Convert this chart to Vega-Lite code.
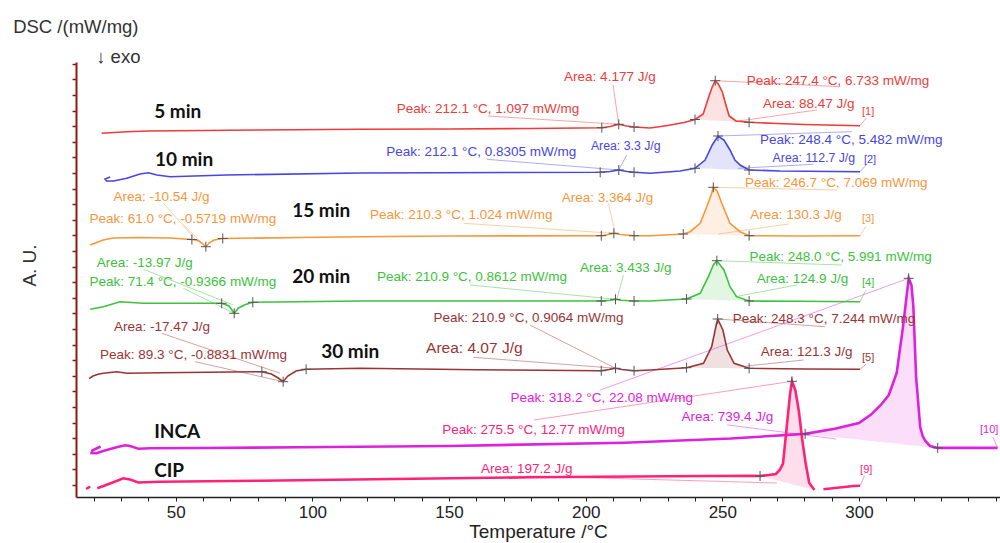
{
"$schema": "https://vega.github.io/schema/vega-lite/v6.json",
"width": 924, "height": 435,
"autosize": "none",
"padding": {"left": 76, "top": 62, "right": 0, "bottom": 46},
"config": {"view": {"stroke": null}, "font": "Liberation Sans"},
"datasets": {
"curves": [
{"s":"5 min","T":22.9,"v":363.7},{"s":"5 min","T":32,"v":365.3},{"s":"5 min","T":40,"v":366},{"s":"5 min","T":60,"v":366.5},{"s":"5 min","T":80,"v":367},{"s":"5 min","T":117,"v":367.7},{"s":"5 min","T":150,"v":368},{"s":"5 min","T":180,"v":368.5},{"s":"5 min","T":205.9,"v":369.3},{"s":"5 min","T":209,"v":370.5},{"s":"5 min","T":212.1,"v":372.7},{"s":"5 min","T":215,"v":371},{"s":"5 min","T":217.7,"v":370},{"s":"5 min","T":223.6,"v":369},{"s":"5 min","T":230,"v":371.5},{"s":"5 min","T":236,"v":374.5},{"s":"5 min","T":240,"v":377.5},{"s":"5 min","T":243,"v":383},{"s":"5 min","T":245,"v":400},{"s":"5 min","T":246.3,"v":410},{"s":"5 min","T":247.4,"v":416.3},{"s":"5 min","T":248.5,"v":413},{"s":"5 min","T":250,"v":405},{"s":"5 min","T":251,"v":395},{"s":"5 min","T":252.5,"v":381},{"s":"5 min","T":255,"v":376},{"s":"5 min","T":259.8,"v":374.7},{"s":"5 min","T":270,"v":373.5},{"s":"5 min","T":280,"v":372.5},{"s":"5 min","T":300.4,"v":371.3},
{"s":"10 min","T":26.0,"v":320},{"s":"10 min","T":24.1,"v":318},{"s":"10 min","T":24.7,"v":316},{"s":"10 min","T":27.2,"v":316},{"s":"10 min","T":32.1,"v":318.7},{"s":"10 min","T":36.9,"v":323},{"s":"10 min","T":40.0,"v":324.3},{"s":"10 min","T":43.1,"v":322},{"s":"10 min","T":47.9,"v":320.3},{"s":"10 min","T":68.7,"v":322},{"s":"10 min","T":117.5,"v":324},{"s":"10 min","T":205.3,"v":324.7},{"s":"10 min","T":208.9,"v":325.5},{"s":"10 min","T":212.1,"v":327},{"s":"10 min","T":215.1,"v":325.5},{"s":"10 min","T":217.7,"v":324.7},{"s":"10 min","T":223.6,"v":323.7},{"s":"10 min","T":234.6,"v":326},{"s":"10 min","T":240.0,"v":328.7},{"s":"10 min","T":243.7,"v":337},{"s":"10 min","T":246.3,"v":352},{"s":"10 min","T":248.4,"v":361},{"s":"10 min","T":250.6,"v":357},{"s":"10 min","T":252.8,"v":347},{"s":"10 min","T":254.6,"v":337},{"s":"10 min","T":256.5,"v":332},{"s":"10 min","T":259.8,"v":327},{"s":"10 min","T":271.1,"v":326},{"s":"10 min","T":300.4,"v":325.3},
{"s":"15 min","T":18.7,"v":252},{"s":"15 min","T":23.5,"v":257},{"s":"15 min","T":27.1,"v":259},{"s":"15 min","T":37.0,"v":259.5},{"s":"15 min","T":47.9,"v":259},{"s":"15 min","T":55.9,"v":257.5},{"s":"15 min","T":58.2,"v":256.5},{"s":"15 min","T":60.0,"v":253},{"s":"15 min","T":61.0,"v":250.3},{"s":"15 min","T":62.2,"v":254},{"s":"15 min","T":64.0,"v":257},{"s":"15 min","T":67.2,"v":258.5},{"s":"15 min","T":95.5,"v":259.5},{"s":"15 min","T":117.5,"v":260.3},{"s":"15 min","T":150.4,"v":261},{"s":"15 min","T":205.7,"v":261.3},{"s":"15 min","T":208.2,"v":262.5},{"s":"15 min","T":210.3,"v":263.7},{"s":"15 min","T":212.6,"v":262.5},{"s":"15 min","T":217.7,"v":261.3},{"s":"15 min","T":223.6,"v":261.3},{"s":"15 min","T":235.7,"v":263},{"s":"15 min","T":238.2,"v":265.3},{"s":"15 min","T":241.9,"v":273.7},{"s":"15 min","T":244.3,"v":290.3},{"s":"15 min","T":246.1,"v":303.7},{"s":"15 min","T":246.7,"v":309.7},{"s":"15 min","T":248.1,"v":306},{"s":"15 min","T":249.8,"v":293.7},{"s":"15 min","T":252.8,"v":273.7},{"s":"15 min","T":256.5,"v":265.3},{"s":"15 min","T":259.8,"v":261.3},{"s":"15 min","T":278.4,"v":261},{"s":"15 min","T":300.4,"v":261.3},
{"s":"20 min","T":18.7,"v":187.7},{"s":"20 min","T":23.5,"v":190.3},{"s":"20 min","T":29.6,"v":195.3},{"s":"20 min","T":38.2,"v":193.7},{"s":"20 min","T":56.5,"v":193.7},{"s":"20 min","T":66.8,"v":193.7},{"s":"20 min","T":69.5,"v":191},{"s":"20 min","T":71.4,"v":183.7},{"s":"20 min","T":73,"v":189},{"s":"20 min","T":75.5,"v":192.5},{"s":"20 min","T":78.2,"v":194.7},{"s":"20 min","T":117.5,"v":196},{"s":"20 min","T":150,"v":196},{"s":"20 min","T":205.7,"v":196},{"s":"20 min","T":209,"v":196.8},{"s":"20 min","T":210.9,"v":197.7},{"s":"20 min","T":213,"v":196.8},{"s":"20 min","T":217.7,"v":196},{"s":"20 min","T":223.6,"v":196},{"s":"20 min","T":236.9,"v":198},{"s":"20 min","T":241.9,"v":203.7},{"s":"20 min","T":244.9,"v":220.3},{"s":"20 min","T":246.7,"v":232},{"s":"20 min","T":248.0,"v":236.3},{"s":"20 min","T":250.6,"v":227},{"s":"20 min","T":252.8,"v":210.3},{"s":"20 min","T":255.2,"v":200.3},{"s":"20 min","T":259.8,"v":196},{"s":"20 min","T":278,"v":195.7},{"s":"20 min","T":300.4,"v":195.3},
{"s":"30 min","T":18.3,"v":118.3},{"s":"30 min","T":19.7,"v":121},{"s":"30 min","T":21.6,"v":122.7},{"s":"30 min","T":23.5,"v":123.7},{"s":"30 min","T":28.4,"v":125.3},{"s":"30 min","T":32.1,"v":123.7},{"s":"30 min","T":44.3,"v":124.3},{"s":"30 min","T":81.5,"v":125.3},{"s":"30 min","T":85,"v":123},{"s":"30 min","T":87.5,"v":119},{"s":"30 min","T":89.3,"v":115.3},{"s":"30 min","T":91,"v":121},{"s":"30 min","T":94,"v":126},{"s":"30 min","T":97.7,"v":127.7},{"s":"30 min","T":117.5,"v":128.7},{"s":"30 min","T":160,"v":127.3},{"s":"30 min","T":205.7,"v":126.3},{"s":"30 min","T":208.5,"v":127.5},{"s":"30 min","T":210.9,"v":128.7},{"s":"30 min","T":213.3,"v":127.5},{"s":"30 min","T":217.7,"v":126.3},{"s":"30 min","T":223.6,"v":127},{"s":"30 min","T":236.9,"v":129.3},{"s":"30 min","T":243.1,"v":133.7},{"s":"30 min","T":246.1,"v":150.3},{"s":"30 min","T":247.9,"v":173.7},{"s":"30 min","T":248.3,"v":178},{"s":"30 min","T":250.2,"v":167},{"s":"30 min","T":251.8,"v":147},{"s":"30 min","T":254.3,"v":133.7},{"s":"30 min","T":259.8,"v":128.7},{"s":"30 min","T":280,"v":128},{"s":"30 min","T":300.4,"v":127.7},
{"s":"INCA","T":22.5,"v":50.5},{"s":"INCA","T":19.5,"v":46.5},{"s":"INCA","T":19.2,"v":44},{"s":"INCA","T":21.0,"v":43.8},{"s":"INCA","T":24.0,"v":46.5},{"s":"INCA","T":28.4,"v":49.7},{"s":"INCA","T":31.5,"v":51.7},{"s":"INCA","T":33.3,"v":51},{"s":"INCA","T":36.3,"v":48.3},{"s":"INCA","T":40.6,"v":48.7},{"s":"INCA","T":58.9,"v":49},{"s":"INCA","T":95.5,"v":49.7},{"s":"INCA","T":150,"v":51},{"s":"INCA","T":214.1,"v":54.3},{"s":"INCA","T":253.1,"v":58.5},{"s":"INCA","T":280.3,"v":63.1},{"s":"INCA","T":291.6,"v":68.4},{"s":"INCA","T":300,"v":74},{"s":"INCA","T":304.4,"v":82.4},{"s":"INCA","T":308,"v":92},{"s":"INCA","T":310.9,"v":102},{"s":"INCA","T":313.8,"v":124},{"s":"INCA","T":316.2,"v":172},{"s":"INCA","T":317.6,"v":205},{"s":"INCA","T":318.2,"v":218.7},{"s":"INCA","T":319.2,"v":212},{"s":"INCA","T":319.9,"v":190},{"s":"INCA","T":320.9,"v":120},{"s":"INCA","T":322.4,"v":70},{"s":"INCA","T":323.3,"v":61},{"s":"INCA","T":324.3,"v":56},{"s":"INCA","T":326,"v":51},{"s":"INCA","T":328.8,"v":49.1},{"s":"INCA","T":350.7,"v":49.1},
{"s":"CIP","g":"a","T":17.2,"v":8},{"s":"CIP","g":"a","T":18.7,"v":10.5},
{"s":"CIP","g":"b","T":21.3,"v":8.7},{"s":"CIP","g":"b","T":26,"v":13.5},{"s":"CIP","g":"b","T":30.8,"v":18.7},{"s":"CIP","g":"b","T":33.3,"v":17.5},{"s":"CIP","g":"b","T":36.3,"v":14.5},{"s":"CIP","g":"b","T":44.3,"v":15.3},{"s":"CIP","g":"b","T":80.9,"v":16.3},{"s":"CIP","g":"b","T":130,"v":18},{"s":"CIP","g":"b","T":179.7,"v":19.7},{"s":"CIP","g":"b","T":230,"v":20.8},{"s":"CIP","g":"b","T":261.4,"v":21.3},{"s":"CIP","g":"b","T":263.8,"v":21},{"s":"CIP","g":"b","T":267,"v":22},{"s":"CIP","g":"b","T":269.6,"v":23},{"s":"CIP","g":"b","T":271,"v":27},{"s":"CIP","g":"b","T":272.2,"v":33.4},{"s":"CIP","g":"b","T":273.5,"v":68.4},{"s":"CIP","g":"b","T":274.8,"v":103.5},{"s":"CIP","g":"b","T":275.5,"v":115.7},{"s":"CIP","g":"b","T":276.7,"v":107},{"s":"CIP","g":"b","T":278,"v":86},{"s":"CIP","g":"b","T":279.2,"v":58},{"s":"CIP","g":"b","T":280.5,"v":33.4},{"s":"CIP","g":"b","T":281.8,"v":14.1},{"s":"CIP","g":"b","T":283.7,"v":7.1},
{"s":"CIP","g":"c","T":287,"v":7.7},{"s":"CIP","g":"c","T":298,"v":11},{"s":"CIP","g":"c","T":300.4,"v":11.3}
],
"areas": [
{"s":"5 min","T":240,"v":377.5,"b":377.5},{"s":"5 min","T":243,"v":383,"b":377.1},{"s":"5 min","T":245,"v":400,"b":376.8},{"s":"5 min","T":246.3,"v":410,"b":376.6},{"s":"5 min","T":247.4,"v":416.3,"b":376.5},{"s":"5 min","T":248.5,"v":413,"b":376.3},{"s":"5 min","T":250,"v":405,"b":376.1},{"s":"5 min","T":251,"v":395,"b":375.9},{"s":"5 min","T":252.5,"v":381,"b":375.7},{"s":"5 min","T":255,"v":376,"b":375.4},{"s":"5 min","T":259.8,"v":374.7,"b":374.7},
{"s":"10 min","T":240,"v":328.7,"b":328.7},{"s":"10 min","T":243.7,"v":337,"b":328.4},{"s":"10 min","T":246.3,"v":352,"b":328.2},{"s":"10 min","T":248.4,"v":361,"b":328.0},{"s":"10 min","T":250.6,"v":357,"b":327.8},{"s":"10 min","T":252.8,"v":347,"b":327.6},{"s":"10 min","T":254.6,"v":337,"b":327.5},{"s":"10 min","T":256.5,"v":332,"b":327.3},{"s":"10 min","T":259.8,"v":327,"b":327},
{"s":"15 min","T":235.7,"v":263,"b":263},{"s":"15 min","T":238.2,"v":265.3,"b":262.8},{"s":"15 min","T":241.9,"v":273.7,"b":262.5},{"s":"15 min","T":244.3,"v":290.3,"b":262.4},{"s":"15 min","T":246.1,"v":303.7,"b":262.2},{"s":"15 min","T":246.7,"v":309.7,"b":262.2},{"s":"15 min","T":248.1,"v":306,"b":262.1},{"s":"15 min","T":249.8,"v":293.7,"b":262.0},{"s":"15 min","T":252.8,"v":273.7,"b":261.8},{"s":"15 min","T":256.5,"v":265.3,"b":261.5},{"s":"15 min","T":259.8,"v":261.3,"b":261.3},
{"s":"20 min","T":236.9,"v":198,"b":198},{"s":"20 min","T":241.9,"v":203.7,"b":197.6},{"s":"20 min","T":244.9,"v":220.3,"b":197.3},{"s":"20 min","T":246.7,"v":232,"b":197.2},{"s":"20 min","T":248,"v":236.3,"b":197.0},{"s":"20 min","T":250.6,"v":227,"b":196.8},{"s":"20 min","T":252.8,"v":210.3,"b":196.6},{"s":"20 min","T":255.2,"v":200.3,"b":196.4},{"s":"20 min","T":259.8,"v":196,"b":196},
{"s":"30 min","T":236.9,"v":129.3,"b":129.3},{"s":"30 min","T":243.1,"v":133.7,"b":129.1},{"s":"30 min","T":246.1,"v":150.3,"b":129.1},{"s":"30 min","T":247.9,"v":173.7,"b":129.0},{"s":"30 min","T":248.3,"v":178,"b":129.0},{"s":"30 min","T":250.2,"v":167,"b":128.9},{"s":"30 min","T":251.8,"v":147,"b":128.9},{"s":"30 min","T":254.3,"v":133.7,"b":128.8},{"s":"30 min","T":259.8,"v":128.7,"b":128.7},
{"s":"INCA","T":280.3,"v":63.1,"b":63.1},{"s":"INCA","T":291.6,"v":68.4,"b":59.8},{"s":"INCA","T":300,"v":74,"b":57.4},{"s":"INCA","T":304.4,"v":82.4,"b":56.1},{"s":"INCA","T":308,"v":92,"b":55.1},{"s":"INCA","T":310.9,"v":102,"b":54.3},{"s":"INCA","T":313.8,"v":124,"b":53.4},{"s":"INCA","T":316.2,"v":172,"b":52.7},{"s":"INCA","T":317.6,"v":205,"b":52.3},{"s":"INCA","T":318.2,"v":218.7,"b":52.1},{"s":"INCA","T":319.2,"v":212,"b":51.8},{"s":"INCA","T":319.9,"v":190,"b":51.6},{"s":"INCA","T":320.9,"v":120,"b":51.3},{"s":"INCA","T":322.4,"v":70,"b":50.9},{"s":"INCA","T":323.3,"v":61,"b":50.6},{"s":"INCA","T":324.3,"v":56,"b":50.3},{"s":"INCA","T":326,"v":51,"b":49.8},{"s":"INCA","T":328.8,"v":49.1,"b":49.1},
{"s":"CIP","T":263.8,"v":21,"b":21},{"s":"CIP","T":267,"v":22,"b":18.8},{"s":"CIP","T":269.6,"v":23,"b":17.0},{"s":"CIP","T":271,"v":27,"b":16.0},{"s":"CIP","T":272.2,"v":33.4,"b":15.1},{"s":"CIP","T":273.5,"v":68.4,"b":14.2},{"s":"CIP","T":274.8,"v":103.5,"b":13.3},{"s":"CIP","T":275.5,"v":115.7,"b":12.8},{"s":"CIP","T":276.7,"v":107,"b":12.0},{"s":"CIP","T":278,"v":86,"b":11.1},{"s":"CIP","T":279.2,"v":58,"b":10.2},{"s":"CIP","T":280.5,"v":33.4,"b":9.3},{"s":"CIP","T":281.8,"v":14.1,"b":8.4},{"s":"CIP","T":283.7,"v":7.1,"b":7.1}
],
"leaders": [
{"s":"5 min","T":210.0,"v":412,"T2":212.1,"v2":372.7},{"s":"5 min","T":164.3,"v":381,"T2":212.1,"v2":372.7},{"s":"5 min","T":247.4,"v":416.3,"T2":293.1,"v2":410.3},{"s":"5 min","T":284.6,"v":387,"T2":254.7,"v2":375.5},{"s":"5 min","T":300.4,"v":371.3,"T2":302.6,"v2":379},
{"s":"10 min","T":215.0,"v":342,"T2":212.1,"v2":327},{"s":"10 min","T":163.8,"v":337.7,"T2":212.1,"v2":327},{"s":"10 min","T":248.4,"v":361,"T2":297.4,"v2":365.3},{"s":"10 min","T":283.3,"v":332.7,"T2":255.8,"v2":328.7},{"s":"10 min","T":300.4,"v":325.3,"T2":302.6,"v2":332},
{"s":"15 min","T":45.5,"v":293.7,"T2":58,"v2":255},{"s":"15 min","T":52.8,"v":272,"T2":61.0,"v2":250.3},{"s":"15 min","T":155.3,"v":273.7,"T2":210.3,"v2":263.7},{"s":"15 min","T":208.3,"v":293.7,"T2":210.8,"v2":263.7},{"s":"15 min","T":246.7,"v":309.7,"T2":291.9,"v2":307},{"s":"15 min","T":274.2,"v":273,"T2":248.6,"v2":263},{"s":"15 min","T":300.4,"v":261.3,"T2":302.6,"v2":271},
{"s":"20 min","T":38.2,"v":227.7,"T2":71.1,"v2":192},{"s":"20 min","T":52.8,"v":208.7,"T2":71.4,"v2":183.7},{"s":"20 min","T":157.7,"v":212,"T2":210.9,"v2":197.7},{"s":"20 min","T":213.8,"v":222,"T2":211.4,"v2":197.7},{"s":"20 min","T":248,"v":236.3,"T2":293.7,"v2":232},{"s":"20 min","T":277.2,"v":212,"T2":254.7,"v2":200.3},{"s":"20 min","T":300.4,"v":195.3,"T2":302.6,"v2":207},
{"s":"30 min","T":44.9,"v":163.7,"T2":88.2,"v2":123.7},{"s":"30 min","T":57.1,"v":135.3,"T2":89.3,"v2":115.3},{"s":"30 min","T":179.6,"v":172,"T2":210.9,"v2":128.7},{"s":"30 min","T":158.9,"v":139.7,"T2":210.9,"v2":128.7},{"s":"30 min","T":248.3,"v":178,"T2":287.6,"v2":170.3},{"s":"30 min","T":279.7,"v":137,"T2":258.9,"v2":131},{"s":"30 min","T":300.4,"v":127.7,"T2":302.6,"v2":133},
{"s":"INCA","T":205.3,"v":107,"T2":318.2,"v2":218.7},{"s":"INCA","T":251.8,"v":72.1,"T2":291.6,"v2":58},{"s":"INCA","T":350.7,"v":49.1,"T2":349,"v2":60},
{"s":"CIP","T":181.1,"v":77,"T2":275.5,"v2":115.7},{"s":"CIP","T":178.6,"v":21,"T2":270,"v2":14},{"s":"CIP","T":300.4,"v":11.3,"T2":302,"v2":21}
],
"crosses": [
{"T":205.9,"v":369.3},{"T":212.1,"v":372.7},{"T":217.7,"v":370},{"T":240,"v":377.5},{"T":247.4,"v":416.3},{"T":259.8,"v":374.7},
{"T":205.3,"v":324.7},{"T":212.1,"v":327},{"T":217.7,"v":324.7},{"T":240,"v":328.7},{"T":248.4,"v":361},{"T":259.8,"v":327},
{"T":55.9,"v":257.5},{"T":61.0,"v":250.3},{"T":67.2,"v":258.5},{"T":205.7,"v":261.3},{"T":210.3,"v":263.7},{"T":217.7,"v":261.3},{"T":235.7,"v":263},{"T":246.7,"v":309.7},{"T":259.8,"v":261.3},
{"T":66.8,"v":193.7},{"T":71.4,"v":183.7},{"T":78.2,"v":194.7},{"T":205.7,"v":196},{"T":210.9,"v":197.7},{"T":217.7,"v":196},{"T":236.9,"v":198},{"T":248.0,"v":236.3},{"T":259.8,"v":196},
{"T":81.5,"v":125.3},{"T":89.3,"v":115.3},{"T":97.7,"v":127.7},{"T":205.7,"v":126.3},{"T":210.9,"v":128.7},{"T":217.7,"v":126.3},{"T":236.9,"v":129.3},{"T":248.3,"v":178},{"T":259.8,"v":128.7},
{"T":280.3,"v":63.1},{"T":318.2,"v":218.7},{"T":328.8,"v":49.1},
{"T":263.8,"v":21},{"T":275.5,"v":115.7}
],
"labels": [
{"s":"5 min","k":"ann","t":"Area: 4.177 J/g","T":192.1,"v":420.3},{"s":"5 min","k":"ann","t":"Peak: 212.1 °C, 1.097 mW/mg","T":130.9,"v":387.7},{"s":"5 min","k":"ann","t":"Peak: 247.4 °C, 6.733 mW/mg","T":258.9,"v":416.3},{"s":"5 min","k":"ann","t":"Area: 88.47 J/g","T":264.9,"v":393},{"s":"5 min","k":"tag","t":"[1]","T":301.1,"v":385.3},
{"s":"10 min","k":"ann","t":"Peak: 212.1 °C, 0.8305 mW/mg","T":127.0,"v":345.3},{"s":"10 min","k":"ann","t":"Area: 3.3 J/g","T":201.9,"v":351},{"s":"10 min","k":"ann","t":"Peak: 248.4 °C, 5.482 mW/mg","T":263.8,"v":357},{"s":"10 min","k":"ann","t":"Area: 112.7 J/g","T":268.4,"v":339.3},{"s":"10 min","k":"tag","t":"[2]","T":301.8,"v":337},
{"s":"15 min","k":"ann","t":"Area: -10.54 J/g","T":27.2,"v":300.3},{"s":"15 min","k":"ann","t":"Peak: 61.0 °C, -0.5719 mW/mg","T":18.4,"v":277.7},{"s":"15 min","k":"ann","t":"Peak: 210.3 °C, 1.024 mW/mg","T":121.1,"v":282},{"s":"15 min","k":"ann","t":"Area: 3.364 J/g","T":191.2,"v":299.3},{"s":"15 min","k":"ann","t":"Peak: 246.7 °C, 7.069 mW/mg","T":258.3,"v":314.3},{"s":"15 min","k":"ann","t":"Area: 130.3 J/g","T":260.2,"v":282},{"s":"15 min","k":"tag","t":"[3]","T":301.1,"v":277.7},
{"s":"20 min","k":"ann","t":"Area: -13.97 J/g","T":21.1,"v":234.3},{"s":"20 min","k":"ann","t":"Peak: 71.4 °C, -0.9366 mW/mg","T":18.4,"v":215.3},{"s":"20 min","k":"ann","t":"Peak: 210.9 °C, 0.8612 mW/mg","T":123.6,"v":220.3},{"s":"20 min","k":"ann","t":"Area: 3.433 J/g","T":197.9,"v":228.7},{"s":"20 min","k":"ann","t":"Peak: 248.0 °C, 5.991 mW/mg","T":259.9,"v":240.3},{"s":"20 min","k":"ann","t":"Area: 124.9 J/g","T":262.6,"v":218},{"s":"20 min","k":"tag","t":"[4]","T":301.1,"v":213.7},
{"s":"30 min","k":"ann","t":"Area: -17.47 J/g","T":27.4,"v":170.3},{"s":"30 min","k":"ann","t":"Peak: 89.3 °C, -0.8831 mW/mg","T":22.3,"v":142},{"s":"30 min","k":"ann","t":"Peak: 210.9 °C, 0.9064 mW/mg","T":144.3,"v":179.3},{"s":"30 min","k":"ann","t":"Area: 4.07 J/g","T":141.6,"v":148.7},{"s":"30 min","k":"ann","t":"Peak: 248.3 °C, 7.244 mW/mg","T":253.8,"v":178},{"s":"30 min","k":"ann","t":"Area: 121.3 J/g","T":264.1,"v":144.7},{"s":"30 min","k":"tag","t":"[5]","T":301.1,"v":138.7},
{"s":"INCA","k":"ann","t":"Peak: 318.2 °C, 22.08 mW/mg","T":172.5,"v":99.5},{"s":"INCA","k":"ann","t":"Area: 739.4 J/g","T":235.1,"v":80.2},{"s":"INCA","k":"tag","t":"[10]","T":344.3,"v":67},
{"s":"CIP","k":"ann","t":"Peak: 275.5 °C, 12.77 mW/mg","T":147.5,"v":67},{"s":"CIP","k":"ann","t":"Area: 197.2 J/g","T":161.7,"v":28},{"s":"CIP","k":"tag","t":"[9]","T":300.4,"v":27}
],
"names": [
{"t":"5 min","T":42.1,"v":385},{"t":"10 min","T":42.4,"v":337},{"t":"15 min","T":92.6,"v":286.3},{"t":"20 min","T":92.6,"v":220},{"t":"30 min","T":103.2,"v":145},{"t":"INCA","T":42.1,"v":65},{"t":"CIP","T":42.1,"v":26}
],
"heads": [
{"t":"DSC /(mW/mg)","T":-9.5,"v":470},{"t":"↓ exo","T":20.9,"v":440}
]
},
"encoding": {
"x": {"field": "T", "type": "quantitative", "title": "Temperature /°C",
"scale": {"domain": [13.5, 351.6], "nice": false, "zero": false},
"axis": {"values": [20,30,40,50,60,70,80,90,100,110,120,130,140,150,160,170,180,190,200,210,220,230,240,250,260,270,280,290,300,310,320,330,340,350],
"labelExpr": "datum.value % 50 === 0 && datum.value < 340 ? datum.label : ''", "labelOverlap": false, "grid": false,
"tickSize": 4, "tickColor": "#222", "domainColor": "#222", "domainWidth": 1.5,
"labelFontSize": 17, "labelColor": "#222", "labelPadding": 3,
"titleFontSize": 19, "titleFontWeight": "normal", "titleColor": "#222", "titlePadding": 2}},
"y": {"field": "v", "type": "quantitative", "title": "A. U.",
"scale": {"domain": [0, 435], "nice": false, "zero": false},
"axis": {"values": [12,27.6,43.2,58.8,74.4,90,105.6,121.2,136.8,152.4,168,183.6,199.2,214.8,230.4,246,261.6,277.2,292.8,308.4,324,339.6,355.2,370.8,386.4,402,417.6,433.2],
"labels": false, "grid": false, "tickSize": 4, "tickWidth": 1.5, "tickColor": "#8b1a1a", "domainColor": "#8b1a1a", "domainWidth": 2,
"titleFontSize": 19, "titleFontWeight": "normal", "titleColor": "#333", "titlePadding": 32, "titleY": 203}}
},
"layer": [
{
"data": {"name": "areas"},
"mark": {"type": "area", "opacity": 0.15},
"encoding": {
"y2": {"field": "b"},
"color": {"field": "s", "type": "nominal", "legend": null,
"scale": {"domain": ["5 min","10 min","15 min","20 min","30 min","INCA","CIP"], "range": ["#f03a3a","#4646e6","#f7963a","#3cc23c","#9a3434","#dd22dd","#ff2277"]}}
}
},
{
"data": {"name": "leaders"},
"mark": {"type": "rule", "strokeWidth": 1, "opacity": 0.45},
"encoding": {
"x2": {"field": "T2"}, "y2": {"field": "v2"},
"color": {"field": "s", "type": "nominal", "legend": null}
}
},
{
"data": {"name": "curves"},
"mark": {"type": "line", "order": false, "strokeWidth": 1.6},
"transform": [{"filter": "datum.s !== 'INCA' && datum.s !== 'CIP'"}],
"encoding": {
"color": {"field": "s", "type": "nominal", "legend": null}
}
},
{
"data": {"name": "curves"},
"mark": {"type": "line", "order": false, "strokeWidth": 2.6},
"transform": [{"filter": "datum.s === 'INCA' || datum.s === 'CIP'"}],
"encoding": {
"color": {"field": "s", "type": "nominal", "legend": null},
"detail": {"field": "g"}
}
},
{
"data": {"name": "crosses"},
"mark": {"type": "point", "shape": "M-1,0L1,0M0,-1L0,1", "size": 100, "filled": false, "color": "#555", "strokeWidth": 1, "opacity": 1}
},
{
"data": {"name": "labels"},
"transform": [{"filter": "datum.k === 'ann'"}],
"mark": {"type": "text", "align": "left", "baseline": "middle"},
"encoding": {
"text": {"field": "t"},
"size": {"condition": [{"test": "datum.t === 'Area: 112.7 J/g' || datum.t === 'Area: 3.3 J/g'", "value": 12.3}, {"test": "datum.t === 'Area: 4.07 J/g'", "value": 15.5}], "value": 13.5},
"color": {"field": "s", "type": "nominal", "legend": null}
}
},
{
"data": {"name": "labels"},
"transform": [{"filter": "datum.k === 'tag'"}],
"mark": {"type": "text", "align": "left", "baseline": "middle", "fontSize": 11},
"encoding": {
"text": {"field": "t"},
"color": {"field": "s", "type": "nominal", "legend": null}
}
},
{
"data": {"name": "names"},
"mark": {"type": "text", "align": "left", "baseline": "middle", "fontSize": 19, "font": "Lato", "fontWeight": "bold", "color": "#111"},
"encoding": {"text": {"field": "t"}}
},
{
"data": {"name": "heads"},
"mark": {"type": "text", "align": "left", "baseline": "middle", "fontSize": 18.5, "color": "#333"},
"encoding": {"text": {"field": "t"}}
}
]
}
